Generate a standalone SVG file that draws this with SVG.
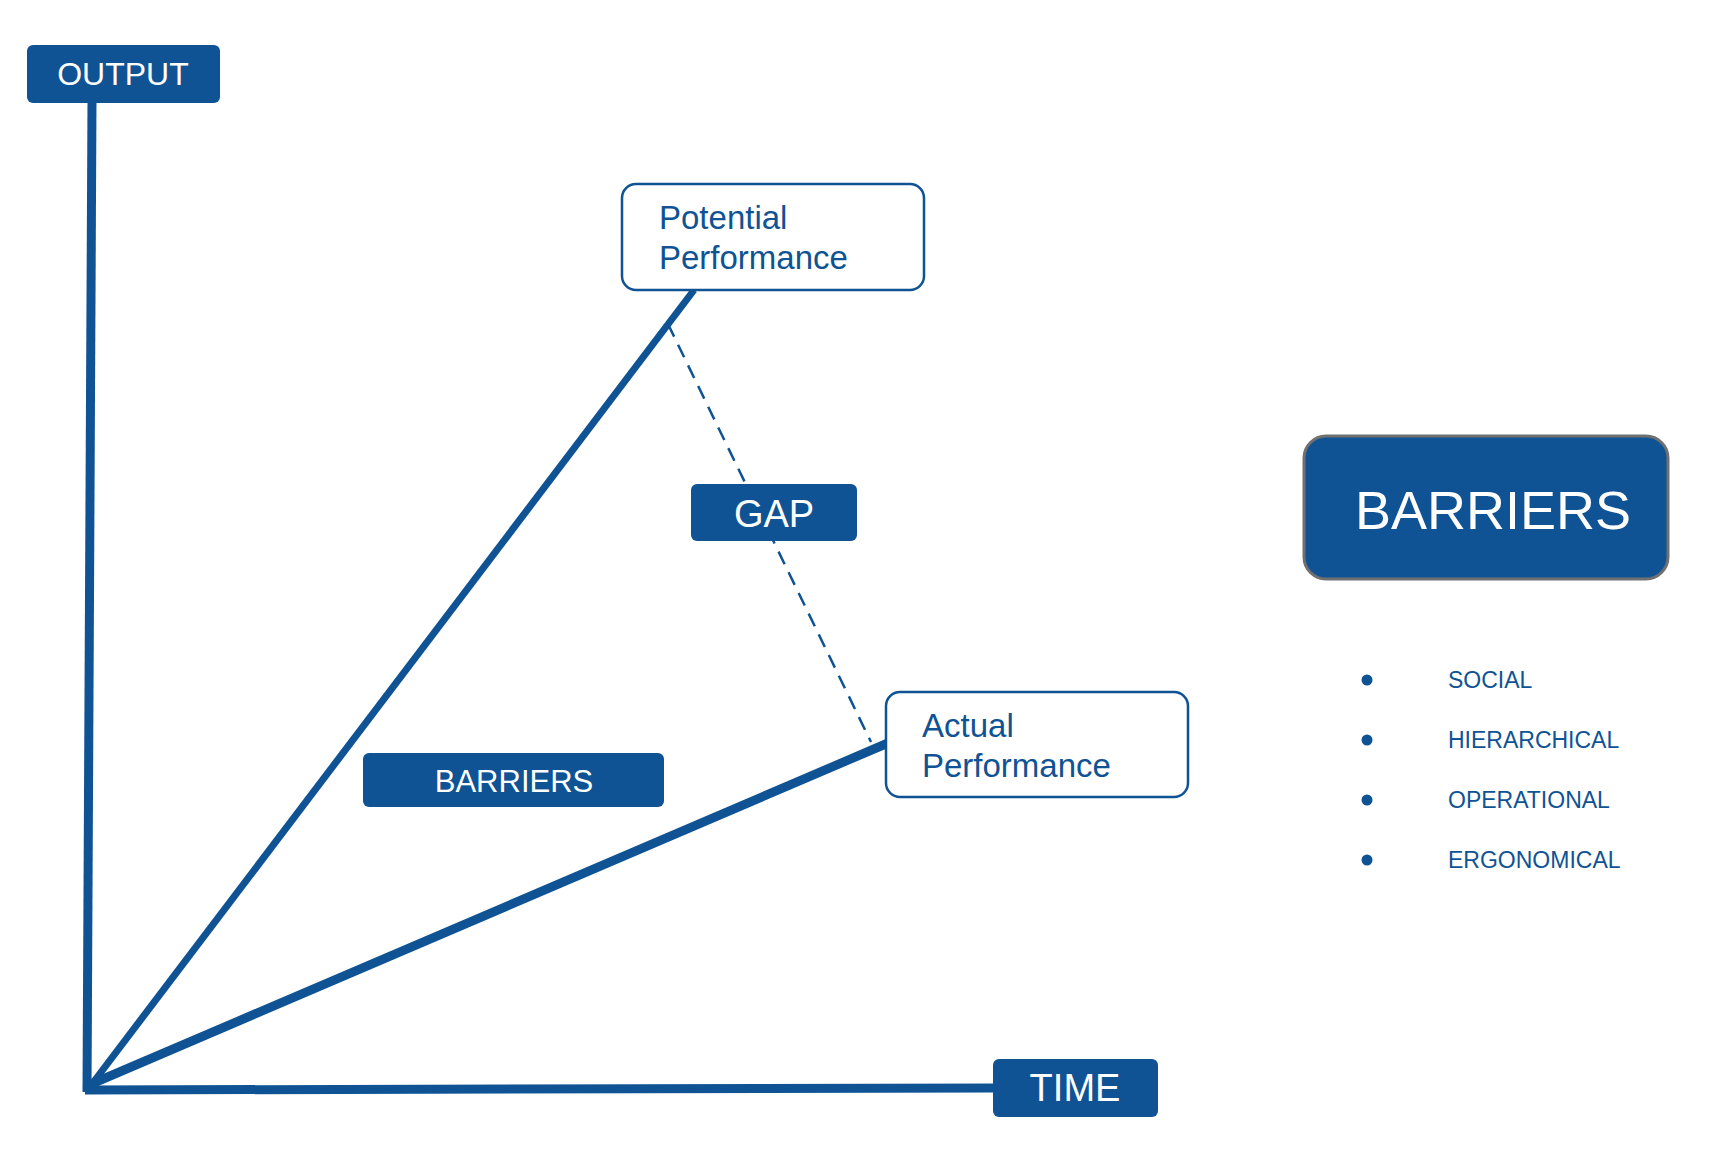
<svg xmlns="http://www.w3.org/2000/svg" width="1727" height="1154" viewBox="0 0 1727 1154">
<style>
.f{fill:#0f5394}
.w{font-family:"Liberation Sans",Arial,sans-serif;fill:#fff}
.b{font-family:"Liberation Sans",Arial,sans-serif;fill:#0f5394}
.ob{fill:#fff;stroke:#0f5394;stroke-width:2.5}
.ln{stroke:#0f5394;fill:none}
</style>
<rect width="1727" height="1154" fill="#fff"/>
<g id="connectors">
<line class="ln" x1="92" y1="100" x2="87" y2="1092" stroke-width="9"/>
<line class="ln" x1="85" y1="1090" x2="995" y2="1088" stroke-width="9"/>
<line class="ln" x1="89" y1="1088" x2="694" y2="290" stroke-width="7"/>
<line class="ln" x1="89" y1="1085" x2="888" y2="743" stroke-width="9"/>
<line class="ln" x1="668" y1="324" x2="871" y2="742" stroke-width="2.5" stroke-dasharray="14,9"/>
</g>
<g id="output"><rect class="f" x="27" y="45" width="193" height="58" rx="6"/><text class="w" x="123" y="85" font-size="32" text-anchor="middle">OUTPUT</text></g>
<g id="time"><rect class="f" x="993" y="1059" width="165" height="58" rx="6"/><text class="w" x="1075" y="1101" font-size="38" text-anchor="middle">TIME</text></g>
<g id="potential"><rect class="ob" x="622" y="184" width="302" height="106" rx="14"/><text class="b" x="659" y="229" font-size="33">Potential</text><text class="b" x="659" y="269" font-size="33">Performance</text></g>
<g id="actual"><rect class="ob" x="886" y="692" width="302" height="105" rx="14"/><text class="b" x="922" y="737" font-size="33">Actual</text><text class="b" x="922" y="777" font-size="33">Performance</text></g>
<g id="gap"><rect class="f" x="691" y="484" width="166" height="57" rx="6"/><text class="w" x="774" y="527" font-size="38" text-anchor="middle">GAP</text></g>
<g id="barriers-small"><rect class="f" x="363" y="753" width="301" height="54" rx="6"/><text class="w" x="514" y="792" font-size="31" text-anchor="middle">BARRIERS</text></g>
<g id="barriers-big"><rect class="f" x="1304" y="436" width="364" height="143" rx="22" stroke="#707070" stroke-width="3"/><text class="w" x="1493" y="529" font-size="54" text-anchor="middle">BARRIERS</text></g>
<g id="list">
<circle class="f" cx="1367" cy="680" r="5.5"/><text class="b" x="1448" y="688" font-size="23">SOCIAL</text>
<circle class="f" cx="1367" cy="740" r="5.5"/><text class="b" x="1448" y="748" font-size="23">HIERARCHICAL</text>
<circle class="f" cx="1367" cy="800" r="5.5"/><text class="b" x="1448" y="808" font-size="23">OPERATIONAL</text>
<circle class="f" cx="1367" cy="860" r="5.5"/><text class="b" x="1448" y="868" font-size="23">ERGONOMICAL</text>
</g>
</svg>
